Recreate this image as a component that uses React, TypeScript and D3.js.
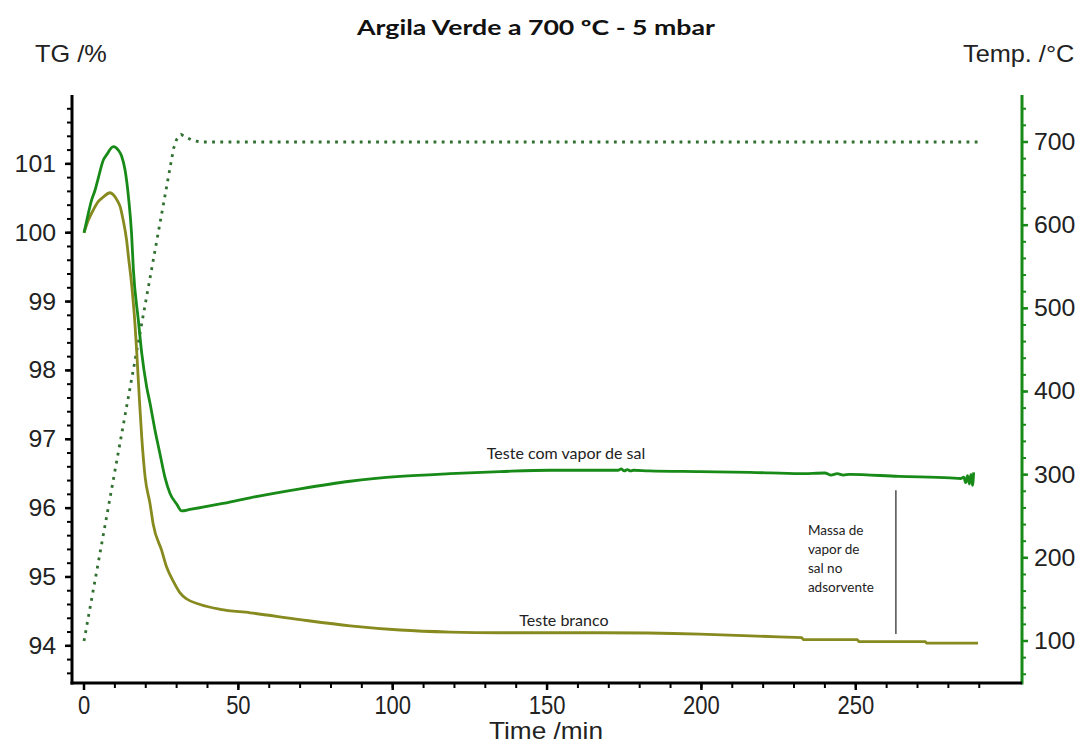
import React from "react";
import * as d3 from "d3";

// ---- Data ----
const timeTicks = [0, 50, 100, 150, 200, 250];
const tgTicks = [94, 95, 96, 97, 98, 99, 100, 101];
const tempTicks = [100, 200, 300, 400, 500, 600, 700];

// Teste com vapor de sal (TG %, green)
const vaporTime = [0, 0.9, 2.5, 3.6, 4.6, 6.3, 7.3, 9.5, 11.1, 12.2, 13.3, 14.4, 15.4, 16.0, 17.6, 18.7, 20.3, 21.4, 23.0, 24.6, 26.2, 27.9, 30.0, 31.6, 34.3, 44.1, 53.8, 70, 86.2, 102.4, 118.6, 134.8, 151, 167, 173, 174, 175, 176, 177, 178, 183, 199.5, 215.7, 232, 240, 242, 244, 246, 248, 264, 280.5, 284, 285, 285.6, 286.2, 286.8, 287.3, 287.8, 288.2];
const vaporTG = [100.0, 100.18, 100.48, 100.62, 100.79, 101.06, 101.13, 101.25, 101.2, 101.11, 100.91, 100.52, 99.99, 99.46, 98.73, 98.25, 97.76, 97.52, 97.13, 96.79, 96.45, 96.21, 96.06, 95.96, 95.98, 96.06, 96.15, 96.28, 96.39, 96.46, 96.5, 96.53, 96.55, 96.55, 96.55, 96.57, 96.54, 96.56, 96.54, 96.55, 96.54, 96.53, 96.52, 96.5, 96.51, 96.48, 96.5, 96.48, 96.49, 96.46, 96.44, 96.43, 96.45, 96.37, 96.47, 96.35, 96.49, 96.33, 96.52];

// Teste branco (TG %, olive)
const brancoTime = [0, 1.4, 3.0, 4.6, 6.3, 8.4, 9.5, 10.6, 11.7, 12.7, 13.8, 14.4, 15.4, 16.5, 17.1, 17.9, 18.7, 19.8, 21.4, 22.4, 25.2, 26.8, 28.9, 31.1, 33.3, 37.6, 44.1, 53.8, 70, 86.2, 102.4, 118.6, 134.8, 167, 199.5, 225, 232.5, 233, 250.5, 251, 272.5, 273, 289.6];
const brancoTG = [100.0, 100.18, 100.33, 100.45, 100.52, 100.58, 100.55, 100.48, 100.38, 100.18, 99.89, 99.65, 99.26, 98.68, 98.25, 97.61, 97.03, 96.45, 96.06, 95.77, 95.38, 95.14, 94.94, 94.77, 94.68, 94.6, 94.53, 94.48, 94.38, 94.29, 94.23, 94.2, 94.19, 94.19, 94.17, 94.13, 94.12, 94.09, 94.09, 94.06, 94.06, 94.04, 94.04];

// Temperature program (°C, dotted)
const tempTime = [0, 29.0, 30.0, 31.5, 33.0, 35.0, 38.0, 289.5];
const tempValue = [100, 692, 703, 709, 706, 702, 700, 700];

// Annotation texts
const title = "Argila Verde a 700 ºC - 5 mbar";
const vaporLabel = "Teste com vapor de sal";
const brancoLabel = "Teste branco";
const massaLines = ["Massa de", "vapor de", "sal no", "adsorvente"];

const GREEN = "#188a18";
const OLIVE = "#878a1e";
const DOT = "#2f6f2f";

export default function App() {
  const W = 1083;
  const H = 745;
  const left = 72;
  const right = 1022;
  const top = 95;
  const bottom = 683;

  const x = d3.scaleLinear().domain([-3.89, 303.85]).range([left, right]);
  const yL = d3.scaleLinear().domain([93.46, 102.0]).range([bottom, top]);
  const yR = d3.scaleLinear().domain([49.5, 756.5]).range([bottom, top]);

  const lineL = d3
    .line<[number, number]>()
    .x((d) => x(d[0]))
    .y((d) => yL(d[1]))
    .curve(d3.curveMonotoneX);
  const lineR = d3
    .line<[number, number]>()
    .x((d) => x(d[0]))
    .y((d) => yR(d[1]));

  const vapor: [number, number][] = vaporTime.map((t, i) => [t, vaporTG[i]]);
  const branco: [number, number][] = brancoTime.map((t, i) => [t, brancoTG[i]]);
  const temp: [number, number][] = tempTime.map((t, i) => [t, tempValue[i]]);

  const tgMinor = d3.range(93.6, 101.81, 0.2);
  const tempMinor = d3.range(60, 741, 20);
  const timeMinor = d3.range(0, 291, 10);

  const sideFont = "'Liberation Sans', Arial, sans-serif";
  const labelFont = "Lato, 'Open Sans', sans-serif";

  return (
    <svg width={W} height={H} style={{ display: "block", position: "absolute", left: 0, top: 0, background: "#fff" }}>
      <rect x={0} y={0} width={W} height={H} fill="#fff" />
      {/* Title */}
      <text x={536} y={35} textAnchor="middle" fontFamily={labelFont} fontWeight={700} fontSize={21} textLength={358} lengthAdjust="spacingAndGlyphs" fill="#111">
        {title}
      </text>
      {/* Axis titles */}
      <text transform={`translate(35,62) scale(1.1,1)`} fontFamily={sideFont} fontSize={23} fill="#222">TG /%</text>
      <text transform={`translate(963,62) scale(1.1,1)`} fontFamily={sideFont} fontSize={23} fill="#222">Temp. /°C</text>

      {/* Left axis */}
      {tgMinor.map((v, i) => (
        <line key={"lm" + i} x1={left - 5} x2={left} y1={yL(v)} y2={yL(v)} stroke="#000" strokeWidth={2} />
      ))}
      {tgTicks.map((v) => (
        <g key={"lt" + v}>
          <line x1={left - 7} x2={left} y1={yL(v)} y2={yL(v)} stroke="#000" strokeWidth={2.5} />
          <text transform={`translate(56,${yL(v) + 8}) scale(1.08,1)`} textAnchor="end" fontFamily={sideFont} fontSize={23} fill="#222">
            {v}
          </text>
        </g>
      ))}
      <line x1={left} x2={left} y1={top} y2={bottom + 1.5} stroke="#000" strokeWidth={3} />

      {/* Right axis */}
      {tempMinor.map((v, i) => (
        <line key={"rm" + i} x1={right} x2={right + 4} y1={yR(v)} y2={yR(v)} stroke={GREEN} strokeWidth={2} />
      ))}
      {tempTicks.map((v) => (
        <g key={"rt" + v}>
          <line x1={right} x2={right + 6} y1={yR(v)} y2={yR(v)} stroke={GREEN} strokeWidth={2.5} />
          <text transform={`translate(1034,${yR(v) + 8}) scale(1.08,1)`} fontFamily={sideFont} fontSize={23} fill="#222">
            {v}
          </text>
        </g>
      ))}
      <line x1={right} x2={right} y1={top} y2={bottom + 1.5} stroke={GREEN} strokeWidth={3} />

      {/* Bottom axis */}
      {timeMinor.map((v, i) => (
        <line key={"bm" + i} x1={x(v)} x2={x(v)} y1={bottom} y2={bottom + 5} stroke="#000" strokeWidth={2} />
      ))}
      {timeTicks.map((v) => (
        <g key={"bt" + v}>
          <line x1={x(v)} x2={x(v)} y1={bottom} y2={bottom + 7} stroke="#000" strokeWidth={2.5} />
          <text transform={`translate(${x(v)},714) scale(0.88,1)`} textAnchor="middle" fontFamily={sideFont} fontSize={25} fill="#222">
            {v}
          </text>
        </g>
      ))}
      <line x1={left - 1.5} x2={right} y1={bottom} y2={bottom} stroke="#000" strokeWidth={3} />
      <text x={546} y={739} textAnchor="middle" fontFamily={sideFont} fontSize={24} textLength={114} lengthAdjust="spacingAndGlyphs" fill="#222">
        Time /min
      </text>

      {/* Series */}
      <path d={lineR(temp) || ""} fill="none" stroke={DOT} strokeWidth={2.8} strokeDasharray="2.8 5.4" />
      <path d={lineL(branco) || ""} fill="none" stroke={OLIVE} strokeWidth={2.8} strokeLinejoin="round" />
      <path d={lineL(vapor) || ""} fill="none" stroke={GREEN} strokeWidth={2.8} strokeLinejoin="round" />

      {/* Annotations */}
      <text x={x(130.5)} y={yL(96.72)} fontFamily={labelFont} fontSize={16} fill="#222">
        {vaporLabel}
      </text>
      <text x={x(141)} y={yL(94.29)} fontFamily={labelFont} fontSize={16} fill="#222">
        {brancoLabel}
      </text>
      <line x1={x(263)} x2={x(263)} y1={yL(96.26)} y2={yL(94.17)} stroke="#333" strokeWidth={1.3} />
      {massaLines.map((s, i) => (
        <text key={s} x={x(234.5)} y={yL(95.61) + i * 19} fontFamily={labelFont} fontSize={13.5} fill="#222">
          {s}
        </text>
      ))}
    </svg>
  );
}
